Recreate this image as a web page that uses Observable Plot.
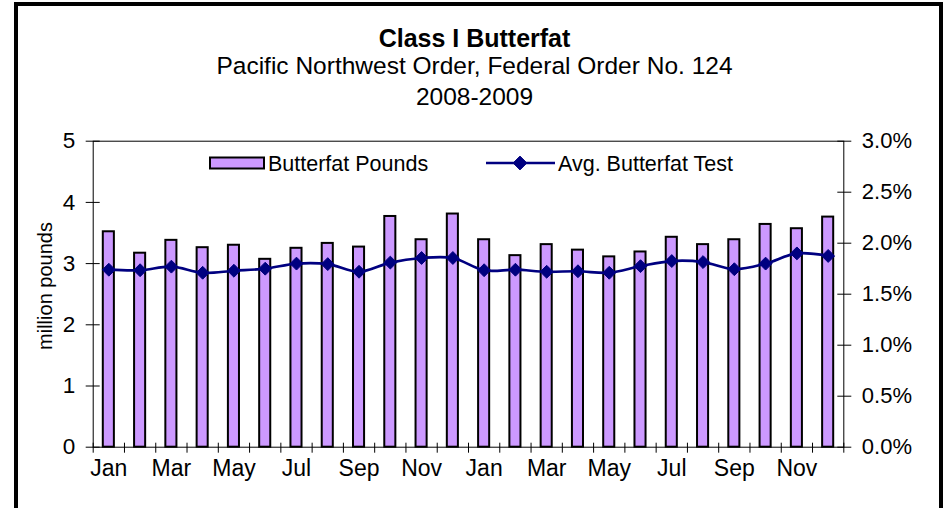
<!DOCTYPE html>
<html>
<head>
<meta charset="utf-8">
<script src="https://cdn.jsdelivr.net/npm/d3@7"></script>
<script src="https://cdn.jsdelivr.net/npm/@observablehq/plot@0.6"></script>
<style>
  html, body { margin: 0; padding: 0; background: #fff; }
  #wrap { position: relative; width: 949px; height: 508px; overflow: hidden; background: #fff;
          font-family: "Liberation Sans", Arial, Helvetica, sans-serif; }
  #frame { position: absolute; left: 14px; top: 2px; width: 920.7px; height: 540px;
           border: 4px solid #000; box-sizing: content-box; pointer-events: none; }
  #chart { position: absolute; left: 0; top: 0; }
  #overlay { position: absolute; left: 0; top: 0; pointer-events: none; }
</style>
</head>
<body>
<div id="wrap">
  <div id="chart"></div>
  <svg id="overlay" width="949" height="508" font-family="Liberation Sans, Arial, Helvetica, sans-serif">
    <text id="t1" x="474.5" y="46.5" text-anchor="middle" font-size="25" font-weight="bold"></text>
    <text id="t2" x="474.5" y="73.5" text-anchor="middle" font-size="24.5"></text>
    <text id="t3" x="474.5" y="105" text-anchor="middle" font-size="24.5"></text>
    <text id="ylab" transform="translate(52,286) rotate(-90)" text-anchor="middle" font-size="20"></text>
    <g id="legend"></g>
  </svg>
  <div id="frame"></div>
</div>
<script>
// ---- data ----
const months = ["Jan","Feb","Mar","Apr","May","Jun","Jul","Aug","Sep","Oct","Nov","Dec",
                "Jan","Feb","Mar","Apr","May","Jun","Jul","Aug","Sep","Oct","Nov","Dec"];
const years = [2008,2008,2008,2008,2008,2008,2008,2008,2008,2008,2008,2008,
               2009,2009,2009,2009,2009,2009,2009,2009,2009,2009,2009,2009];
// Butterfat pounds, million pounds (left axis)
const pounds = [3.52,3.17,3.38,3.26,3.30,3.07,3.25,3.33,3.27,3.77,3.39,3.81,
                3.39,3.13,3.31,3.22,3.11,3.19,3.43,3.31,3.39,3.64,3.57,3.76];
// Avg. butterfat test, percent (right axis)
const testPct = [1.74,1.735,1.77,1.71,1.73,1.75,1.80,1.795,1.72,1.81,1.855,1.855,
                 1.735,1.74,1.72,1.725,1.71,1.775,1.825,1.815,1.745,1.80,1.90,1.875];
const leftTicks = [0,1,2,3,4,5];
const rightTicks = [0,0.5,1.0,1.5,2.0,2.5,3.0];
const xLabelMonths = ["Jan","Mar","May","Jul","Sep","Nov"];
const titleText = "Class I Butterfat";
const subtitleText = "Pacific Northwest Order, Federal Order No. 124";
const yearsText = "2008-2009";
const yLabelText = "million pounds";
const seriesNames = ["Butterfat Pounds", "Avg. Butterfat Test"];

// ---- build ----
const LEFT_MAX = 5, RIGHT_MAX = 3;
const toLeft = p => p * LEFT_MAX / RIGHT_MAX;
const data = months.map((m, i) => ({i, month: m, year: years[i], pounds: pounds[i], pct: testPct[i]}));
const labelPos = data.filter(d => xLabelMonths.includes(d.month)).map(d => d.i + 0.5);
const boundaries = d3.range(0, months.length + 1);

const font = "Liberation Sans, Arial, Helvetica, sans-serif";
const navy = "#000080";
const lavender = "#CC99FF";

const chart = Plot.plot({
  width: 949,
  height: 508,
  marginLeft: 92.7,
  marginRight: 105.7,
  marginTop: 140.7,
  marginBottom: 61.3,
  x: {type: "linear", domain: [0, months.length], axis: null},
  y: {domain: [0, LEFT_MAX], axis: null},
  style: {fontFamily: font, fontSize: "22px", color: "#000", background: "transparent", overflow: "visible"},
  marks: [
    Plot.rectY(data, {x1: "i", x2: d => d.i + 1, y: "pounds", insetLeft: 10.1, insetRight: 10.1,
      fill: lavender, stroke: "#000", strokeWidth: 2}),
    Plot.line(data, {x: d => d.i + 0.5, y: d => toLeft(d.pct), stroke: navy, strokeWidth: 2.7, curve: "catmull-rom"}),
    Plot.dot(data, {x: d => d.i + 0.5, y: d => toLeft(d.pct), symbol: "diamond2", r: 5.8, fill: navy, stroke: navy, strokeWidth: 1}),
    Plot.frame({stroke: "#000", strokeWidth: 1}),
    // left axis: crossing ticks + labels
    Plot.axisY(leftTicks, {anchor: "left", tickSize: 14, dx: 7, fill: "none", stroke: "#000", label: null}),
    Plot.axisY(leftTicks, {anchor: "left", tickSize: 0, tickPadding: 18, fontSize: 22.5, label: null, tickFormat: d => String(d)}),
    // right axis
    Plot.axisY(rightTicks.map(toLeft), {anchor: "right", tickSize: 14, dx: -7, fill: "none", stroke: "#000", label: null}),
    Plot.axisY(rightTicks.map(toLeft), {anchor: "right", tickSize: 0, tickPadding: 18, fontSize: 22, label: null,
      tickFormat: d => (d * RIGHT_MAX / LEFT_MAX).toFixed(1) + "%"}),
    // x axis ticks at month boundaries, labels at month centers
    Plot.axisX(boundaries, {anchor: "bottom", tickSize: 10, dy: -4, fill: "none", stroke: "#000", label: null}),
    Plot.axisX(labelPos, {anchor: "bottom", tickSize: 0, tickPadding: 12.3, fontSize: 23, label: null,
      tickFormat: d => months[Math.floor(d)]})
  ]
});
document.getElementById("chart").appendChild(chart);

// titles
d3.select("#t1").text(titleText);
d3.select("#t2").text(subtitleText);
d3.select("#t3").text(yearsText);
d3.select("#ylab").text(yLabelText);

// legend
const lg = d3.select("#legend");
lg.append("rect").attr("x", 210).attr("y", 157.5).attr("width", 54).attr("height", 11)
  .attr("fill", lavender).attr("stroke", "#000").attr("stroke-width", 2);
lg.append("text").attr("x", 268).attr("y", 170.5).attr("font-size", 21.5).text(seriesNames[0]);
lg.append("line").attr("x1", 486).attr("x2", 555).attr("y1", 163).attr("y2", 163)
  .attr("stroke", navy).attr("stroke-width", 2.7);
lg.append("path").attr("transform", "translate(520,163)")
  .attr("d", d3.symbol(d3.symbolDiamond2, Math.PI * 6.2 * 6.2)())
  .attr("fill", navy).attr("stroke", navy);
lg.append("text").attr("x", 558).attr("y", 170.5).attr("font-size", 21.5).text(seriesNames[1]);
</script>
</body>
</html>
